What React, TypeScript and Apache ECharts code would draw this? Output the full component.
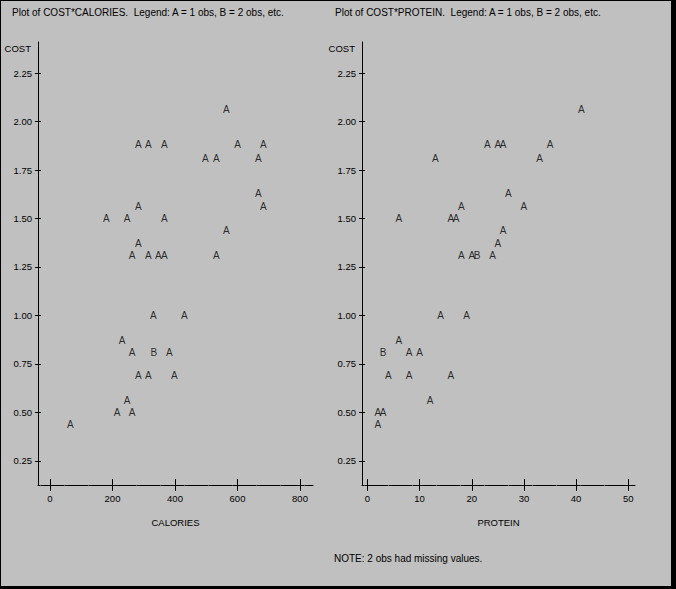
import * as echarts from 'echarts';
import { useEffect, useRef } from 'react';

const FONT = 'Liberation Sans';

const titleCalories = 'Plot of COST*CALORIES.  Legend: A = 1 obs, B = 2 obs, etc.';
const titleProtein = 'Plot of COST*PROTEIN.  Legend: A = 1 obs, B = 2 obs, etc.';
const noteText = 'NOTE: 2 obs had missing values.';

const costTicks = [0.25, 0.5, 0.75, 1.0, 1.25, 1.5, 1.75, 2.0, 2.25];
const calorieTicks = [0, 200, 400, 600, 800];
const proteinTicks = [0, 10, 20, 30, 40, 50];

// [calories, cost, obs]
const caloriesPoints = [
  [564, 2.06, 1],
  [283, 1.88, 1], [315, 1.88, 1], [366, 1.88, 1], [600, 1.88, 1], [683, 1.88, 1],
  [497, 1.81, 1], [532, 1.81, 1], [667, 1.81, 1],
  [667, 1.63, 1],
  [283, 1.56, 1], [683, 1.56, 1],
  [180, 1.5, 1], [247, 1.5, 1], [366, 1.5, 1],
  [564, 1.44, 1],
  [283, 1.37, 1],
  [263, 1.31, 1], [315, 1.31, 1], [347, 1.31, 1], [366, 1.31, 1], [532, 1.31, 1],
  [331, 1.0, 1], [430, 1.0, 1],
  [231, 0.87, 1],
  [263, 0.81, 1], [332, 0.81, 2], [382, 0.81, 1],
  [283, 0.69, 1], [315, 0.69, 1], [398, 0.69, 1],
  [247, 0.56, 1],
  [215, 0.5, 1], [263, 0.5, 1],
  [65, 0.44, 1],
];

// [protein, cost, obs]
const proteinPoints = [
  [41, 2.06, 1],
  [23, 1.88, 1], [25, 1.88, 1], [26, 1.88, 1], [35, 1.88, 1],
  [13, 1.81, 1], [33, 1.81, 1],
  [27, 1.63, 1],
  [18, 1.56, 1], [30, 1.56, 1],
  [6, 1.5, 1], [16, 1.5, 1], [17, 1.5, 1],
  [26, 1.44, 1],
  [25, 1.37, 1],
  [18, 1.31, 1], [20, 1.31, 1], [21, 1.31, 2], [24, 1.31, 1],
  [14, 1.0, 1], [19, 1.0, 1],
  [6, 0.87, 1],
  [3, 0.81, 2], [8, 0.81, 1], [10, 0.81, 1],
  [4, 0.69, 1], [8, 0.69, 1], [16, 0.69, 1],
  [12, 0.56, 1],
  [2, 0.5, 1], [3, 0.5, 1],
  [2, 0.44, 1],
];

const black = '#000';
const costMin = 0.126;
const costMax = 2.41;

function makeXAxes(gridIndex: number, min: number, max: number, ticks: number[], name: string) {
  return [
    {
      type: 'value',
      gridIndex,
      min,
      max,
      position: 'bottom',
      name,
      nameLocation: 'middle',
      nameGap: 37,
      nameTextStyle: { color: black, fontSize: 9.5, fontFamily: FONT, verticalAlign: 'middle' },
      axisLine: {
        show: true,
        onZero: false,
        lineStyle: { color: black, width: 1, type: [23, 1], dashOffset: 21 },
      },
      axisTick: { show: true, inside: false, length: 6, customValues: ticks, lineStyle: { color: black } },
      axisLabel: { customValues: ticks, margin: 8, color: black, fontSize: 9.5, fontFamily: FONT },
      splitLine: { show: false },
    },
    {
      type: 'value',
      gridIndex,
      min,
      max,
      position: 'bottom',
      axisLine: { show: false, onZero: false },
      axisTick: { show: true, inside: true, length: 6, customValues: ticks, lineStyle: { color: black } },
      axisLabel: { show: false },
      splitLine: { show: false },
    },
  ];
}

function makeYAxes(gridIndex: number) {
  return [
    {
      type: 'value',
      gridIndex,
      min: costMin,
      max: costMax,
      position: 'left',
      name: 'COST',
      nameLocation: 'end',
      nameGap: -6,
      nameTextStyle: {
        color: black,
        fontSize: 9.5,
        fontFamily: FONT,
        align: 'right',
        verticalAlign: 'middle',
        padding: [0, 7, 0, 0],
      },
      axisLine: { show: true, onZero: false, lineStyle: { color: black, width: 1 } },
      axisTick: { show: true, inside: false, length: 3, customValues: costTicks, lineStyle: { color: black } },
      axisLabel: {
        customValues: costTicks,
        margin: 6,
        color: black,
        fontSize: 9.5,
        fontFamily: FONT,
        formatter: (v: number) => v.toFixed(2),
      },
      splitLine: { show: false },
    },
    {
      type: 'value',
      gridIndex,
      min: costMin,
      max: costMax,
      position: 'left',
      axisLine: { show: false, onZero: false },
      axisTick: { show: true, inside: true, length: 3, customValues: costTicks, lineStyle: { color: black } },
      axisLabel: { show: false },
      splitLine: { show: false },
    },
  ];
}

function letterSeries(data: number[][], axisIndex: number) {
  return {
    type: 'scatter',
    xAxisIndex: axisIndex,
    yAxisIndex: axisIndex,
    data,
    symbolSize: 1,
    itemStyle: { color: 'rgba(0,0,0,0)' },
    silent: true,
    label: {
      show: true,
      position: 'inside',
      formatter: (p: any) => (p.data[2] === 2 ? 'B' : 'A'),
      color: black,
      textBorderWidth: 0,
      fontSize: 10,
      fontFamily: FONT,
    },
    emphasis: { disabled: true },
  };
}

export default function App() {
  const chartRef = useRef<HTMLDivElement>(null);

  useEffect(() => {
    if (!chartRef.current) return;
    const chart = echarts.init(chartRef.current, null, { renderer: 'svg' });

    const titleStyle = { color: black, fontSize: 10, fontWeight: 'normal', fontFamily: FONT };

    chart.setOption({
      animation: false,
      backgroundColor: black,
      graphic: [
        {
          type: 'rect',
          shape: { x: 1, y: 1, width: 670, height: 585 },
          style: { fill: '#c0c0c0' },
          z: -10,
          silent: true,
        },
      ],
      title: [
        { text: titleCalories, left: 12, top: 7, padding: 0, textStyle: titleStyle },
        { text: titleProtein, left: 335, top: 7, padding: 0, textStyle: titleStyle },
        { text: noteText, left: 334, top: 553, padding: 0, textStyle: titleStyle },
      ],
      grid: [
        { left: 38, top: 42, width: 275, height: 443 },
        { left: 362, top: 42, width: 273, height: 443 },
      ],
      xAxis: [
        ...makeXAxes(0, -38.4, 841.6, calorieTicks, 'CALORIES'),
        ...makeXAxes(1, -1.04, 51.29, proteinTicks, 'PROTEIN'),
      ],
      yAxis: [...makeYAxes(0), ...makeYAxes(1)],
      series: [letterSeries(caloriesPoints, 0), letterSeries(proteinPoints, 2)],
    });

    return () => {
      chart.dispose();
    };
  }, []);

  return (
    <div
      ref={chartRef}
      style={{ position: 'absolute', left: 0, top: 0, width: '676px', height: '589px' }}
    />
  );
}
